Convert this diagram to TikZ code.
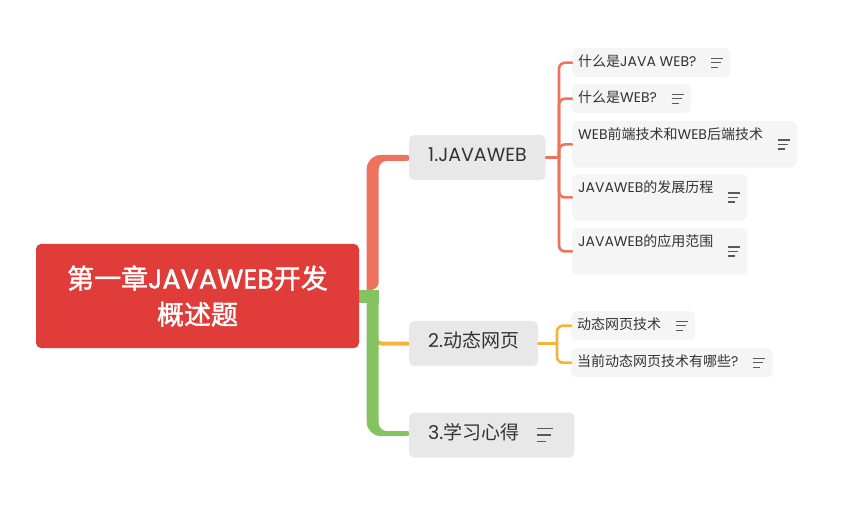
\documentclass[tikz,border=0pt]{standalone}
\usepackage{fontspec}
\setmainfont{Poppins}
\newfontfamily\cjk{Noto Sans CJK SC}
\newfontfamily\cjkbold[FakeBold=1.5]{Noto Sans CJK SC}
\newfontfamily\latinbold[FakeBold=1.5]{Poppins}
\usepackage{tikz}
\usetikzlibrary{calc,backgrounds}
\newcommand{\zh}[1]{{\cjk #1}}
\newcommand{\zhb}[1]{{\cjkbold #1}}
\newcommand{\notegap}[1][28pt]{\makebox[#1]{}}
\definecolor{rootred}{HTML}{E03C39}
\definecolor{branchA}{HTML}{EE735E}
\definecolor{branchB}{HTML}{F3B43C}
\definecolor{branchC}{HTML}{84C262}
\definecolor{topicgray}{HTML}{E8E8E8}
\definecolor{subgray}{HTML}{F5F5F5}
\definecolor{inkgray}{HTML}{333333}
\tikzset{
  rootbox/.style={ fill=rootred, rounded corners=5pt, minimum width=323pt, minimum height=104pt, text=white, align=center, font=\latinbold\fontsize{27}{36}\selectfont }
}
\tikzset{
  topicbox/.style={ fill=topicgray, rounded corners=5pt, anchor=west, inner xsep=19pt, inner ysep=14pt, text height=13pt, text depth=4pt, text=inkgray, font=\fontsize{19}{22}\selectfont }
}
\tikzset{
  subbox/.style={ fill=subgray, rounded corners=5pt, anchor=north west, inner xsep=6pt, inner ysep=8pt, text height=10pt, text depth=3pt, text=inkgray, font=\fontsize{14}{16}\selectfont }
}
\tikzset{
  tallbox/.style={ subbox, text depth=20.5pt }
}
\tikzset{
  thinlink/.style={ line width=2.6pt, rounded corners=6pt, line cap=round }
}
\tikzset{
  notepen/.style={ draw=black!65, line width=1.3pt }
}
\tikzset{
  noteicon/.pic={ \draw[notepen] (0,-4.5) -- (12,-4.5) (0,0) -- (10,0) (0,4.5) -- (7,4.5); }
}

\begin{document}
\begin{tikzpicture}[x=1pt, y=-1pt]
  \useasboundingbox (0,0) rectangle (852,505);
  % central topic
  \node[rootbox] (root) at (197.5,296) {\zhb{第一章}JAVAWEB\zhb{开发}\\\zhb{概述题}};
  % main topics
  \node[topicbox] (jw) at (409,157.5) {1.JAVAWEB};
  \node[topicbox] (dt) at (409,343.5) {2.\zh{动态网页}};
  \node[topicbox] (xx) at (409,435) {3.\zh{学习心得}\notegap[36pt]};
  \pic[scale=1.4] at ([xshift=-38pt]xx.east) {noteicon};
  % trunk, ends tucked under the boxes
  \begin{scope}[on background layer]
    \coordinate (hub) at ([xshift=13.5pt]root.east);
    \draw[branchB, line width=4pt, rounded corners=6pt] ([xshift=3pt,yshift=-36pt]hub) |- ([xshift=8pt]dt.west);
    \fill[branchA] ([xshift=-6pt,yshift=6pt]hub) [rounded corners=14pt] |- ([xshift=10pt,yshift=2.5pt]jw.west)
      -- ([xshift=10pt,yshift=-3.5pt]jw.west) [rounded corners=8pt] -| ([xshift=6pt,yshift=6pt]hub)
      [sharp corners] -- cycle;
    \fill[branchC] ([xshift=-6pt,yshift=6pt]hub) [rounded corners=14pt] |- ([xshift=10pt,yshift=-1pt]xx.west)
      -- ([xshift=10pt,yshift=4pt]xx.west) [rounded corners=8pt] -| ([xshift=6pt,yshift=6pt]hub)
      [sharp corners] -- cycle;
    \fill[branchC] ([yshift=6pt]root.east) rectangle ([xshift=6pt,yshift=-7pt]hub);
  \end{scope}
  % subtopics of 1
  \node[subbox] (s1) at (572,48) {\zh{什么是}JAVA WEB?\notegap};
  \node[subbox] (s2) at (572,84) {\zh{什么是}WEB?\notegap};
  \node[tallbox] (s3) at (572,121) {WEB\zh{前端技术和}WEB\zh{后端技术}\notegap};
  \node[tallbox] (s4) at (572,174) {JAVAWEB\zh{的发展历程}\notegap};
  \node[tallbox] (s5) at (572,228) {JAVAWEB\zh{的应用范围}\notegap};
  % subtopics of 2
  \node[subbox] (u1) at (571,311) {\zh{动态网页技术}\notegap};
  \node[subbox] (u2) at (571,348) {\zh{当前动态网页技术有哪些}?\notegap};
  \foreach \s in {s1,s2,s3,s4,s5,u1,u2}
    \pic at ([xshift=-19.5pt]\s.east) {noteicon};
  % brackets
  \coordinate (jwfork) at ([xshift=-13pt]s3.west |- jw.east);
  \draw[thinlink, branchA] (jw.east) -- (jwfork);
  \foreach \s in {s1,s2,s3,s4,s5}
    \draw[thinlink, branchA] (jwfork) |- (\s.west);
  \coordinate (dtfork) at ([xshift=-14pt]u1.west |- dt.east);
  \draw[thinlink, branchB] (dt.east) -- (dtfork);
  \foreach \s in {u1,u2}
    \draw[thinlink, branchB] (dtfork) |- (\s.west);
\end{tikzpicture}
\end{document}
